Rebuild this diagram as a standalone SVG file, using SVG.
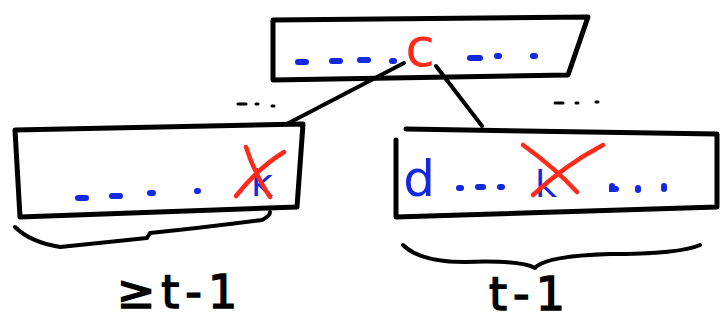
<svg xmlns="http://www.w3.org/2000/svg" width="720" height="320" viewBox="0 0 720 320">
<style>
.box{fill:#fff;stroke:#000;stroke-width:5;stroke-linejoin:round;stroke-linecap:round}
.ink{fill:none;stroke:#000;stroke-width:4;stroke-linecap:round;stroke-linejoin:round}
.dash{stroke:#1428e0;stroke-width:6;stroke-linecap:round;fill:none}
.cross{stroke:#ff2a1a;stroke-width:4.5;stroke-linecap:round;fill:none}
.blue{fill:#1428e0;font-family:"DejaVu Sans",sans-serif}
.red{fill:#ff2a1a;font-family:"DejaVu Sans",sans-serif}
.lbl{fill:#000;stroke:#000;stroke-width:1.5;font-family:"DejaVu Sans",sans-serif;letter-spacing:6px}
</style>
<rect width="720" height="320" fill="#fff"/>
<g id="node-top">
<path class="box" d="M273,20 L588,17 L568,75 L273,80 Z"/>
<path class="dash" d="M298,62 h8 M332,61 h8 M360,60 h8 M392,61 h2 M470,58 h10 M497,56 h2 M533,56 h2"/>
<text class="red" x="420" y="66" font-size="54" text-anchor="middle">c</text>
</g>
<g id="connectors">
<path class="ink" d="M404,63 L283,126"/>
<path class="ink" d="M436,66 L482,126"/>
</g>
<g id="dots-left"><path class="dash" style="stroke:#000;stroke-width:3" d="M238,104 h8 M256,104 h2 M272,106 h2"/></g>
<g id="dots-right"><path class="dash" style="stroke:#000;stroke-width:3" d="M555,103 h8 M576,103 h2 M596,102 h2"/></g>
<g id="node-left">
<path class="box" d="M15,130 L303,124 L297,207 L20,217 Z"/>
<path class="dash" d="M78,198 h8 M112,196 h8 M150,193 h3 M197,191 h1"/>
<text class="blue" x="262" y="196" font-size="38" text-anchor="middle">k</text>
<path class="cross" d="M246,147 Q255,175 270,197 M236,196 Q258,168 284,152"/>
</g>
<g id="node-right">
<path class="box" d="M406,129 L717,134 L717,207 L396,217 L396,140"/>
<text class="blue" x="419" y="196" font-size="50" text-anchor="middle">d</text>
<path class="dash" d="M459,188 h2 M478,187 h5 M500,187 h2 M612,186 v3 h4 M638,188 v2 M664,186 v3"/>
<text class="blue" x="546" y="197" font-size="38" text-anchor="middle">k</text>
<path class="cross" d="M523,145 Q555,168 577,192 M533,195 Q565,165 603,145"/>
</g>
<g id="brace-left">
<path class="ink" d="M15,227 Q30,242 60,247 Q110,242 147,238 L150,233 Q200,228 262,220 Q270,216 270,212"/>
<text class="lbl" x="180" y="308" font-size="46" text-anchor="middle">≥t-1</text>
</g>
<g id="brace-right">
<path class="ink" d="M403,245 Q420,262 465,262 Q520,260 535,268 Q545,256 610,254 Q680,254 700,245"/>
<text class="lbl" x="530" y="310" font-size="46" text-anchor="middle">t-1</text>
</g>
</svg>
